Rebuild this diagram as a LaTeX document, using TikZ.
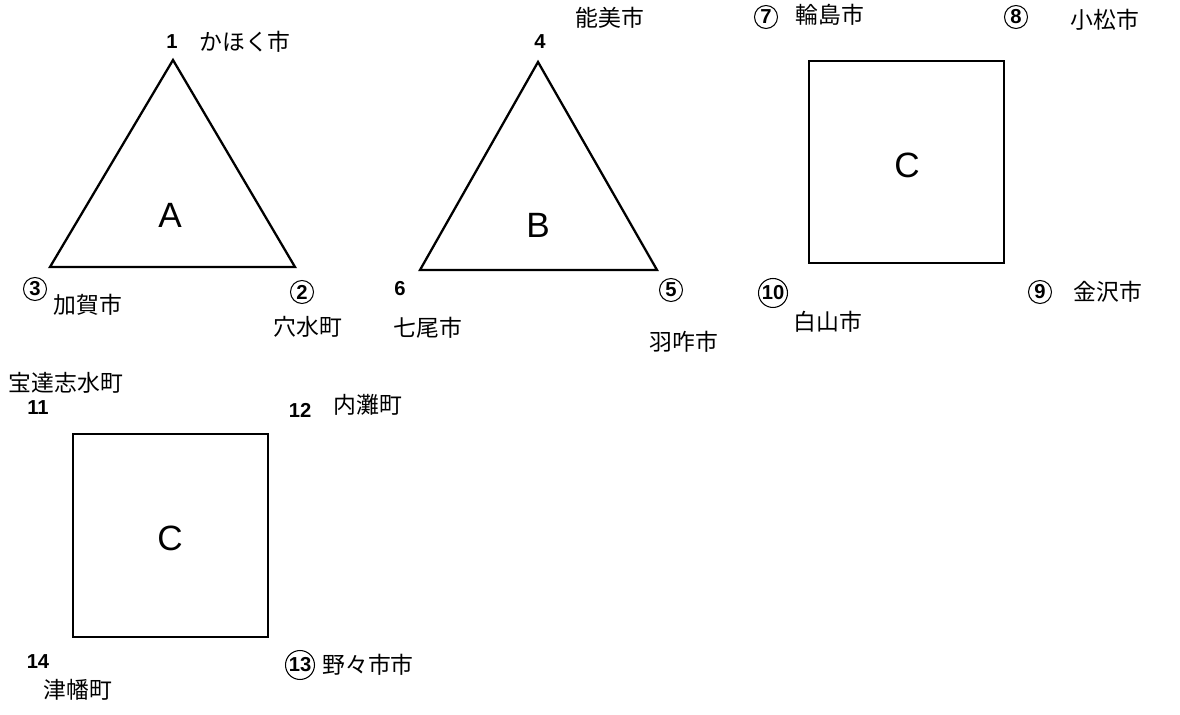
\documentclass[tikz,border=0pt]{standalone}
\usepackage{fontspec}
\setmainfont{Liberation Sans}
\newfontfamily\jpfont{Noto Sans CJK JP}
\usetikzlibrary{positioning}
\tikzset{
  shapeline/.style={line width=1.3pt, line join=miter},
  bigletter/.style={font=\fontsize{20}{22}\selectfont},
  vnum/.style={font=\bfseries\fontsize{11.5}{12}\selectfont, inner sep=1pt},
  cnum/.style={vnum, circle, draw, line width=0.6pt, inner sep=0.5pt, minimum size=0.46cm},
  town/.style={font=\jpfont\fontsize{13}{14}\selectfont, inner sep=1pt},
}

\begin{document}
\begin{tikzpicture}[x=0.02cm, y=-0.02cm]
\useasboundingbox (0,0) rectangle (1180,715);

% triangle A
\coordinate (a1) at (173,60);
\coordinate (a2) at (295,267);
\coordinate (a3) at (50,267);
\draw[shapeline] (a1) -- (a2) -- (a3) -- cycle;
\node[bigletter] (lblA) at (170,215) {A};

% triangle B
\coordinate (b4) at (538,62);
\coordinate (b5) at (657,270);
\coordinate (b6) at (420,270);
\draw[shapeline] (b4) -- (b5) -- (b6) -- cycle;
\node[bigletter] (lblB) at (538,225) {B};

% square C (top)
\draw[shapeline] (809,61) rectangle (1004,263);
\node[bigletter] (lblC) at (907,165) {C};

% square C (bottom)
\draw[shapeline] (73,434) rectangle (268,637);
\node[bigletter] (lblCb) at (170,538) {C};

% vertex numbers and towns
\node[vnum] (n1) at (172,42) {1};
\node[town] (t1) at (245,42) {かほく市};
\node[cnum] (n2) at (302,292) {2};
\node[town] (t2) at (308,327) {穴水町};
\node[cnum] (n3) at (35,289) {3};
\node[town] (t3) at (88,305) {加賀市};

\node[vnum] (n4) at (540,42) {4};
\node[town] (t4) at (610,18) {能美市};
\node[cnum] (n5) at (671,290) {5};
\node[town] (t5) at (684,342) {羽咋市};
\node[vnum] (n6) at (400,289) {6};
\node[town] (t6) at (428,328) {七尾市};

\node[cnum] (n7) at (766,17) {7};
\node[town] (t7) at (830,15) {輪島市};
\node[cnum] (n8) at (1016,17) {8};
\node[town] (t8) at (1105,20) {小松市};
\node[cnum] (n9) at (1040,292) {9};
\node[town] (t9) at (1108,292) {金沢市};
\node[cnum] (n10) at (773,293) {10};
\node[town] (t10) at (828,322) {白山市};

\node[town] (t11) at (66,383) {宝達志水町};
\node[vnum] (n11) at (38,408) {11};
\node[vnum] (n12) at (300,410) {12};
\node[town] (t12) at (368,405) {内灘町};
\node[cnum] (n13) at (300,665) {13};
\node[town] (t13) at (368,665) {野々市市};
\node[vnum] (n14) at (38,662) {14};
\node[town] (t14) at (78,690) {津幡町};
\end{tikzpicture}
\end{document}
